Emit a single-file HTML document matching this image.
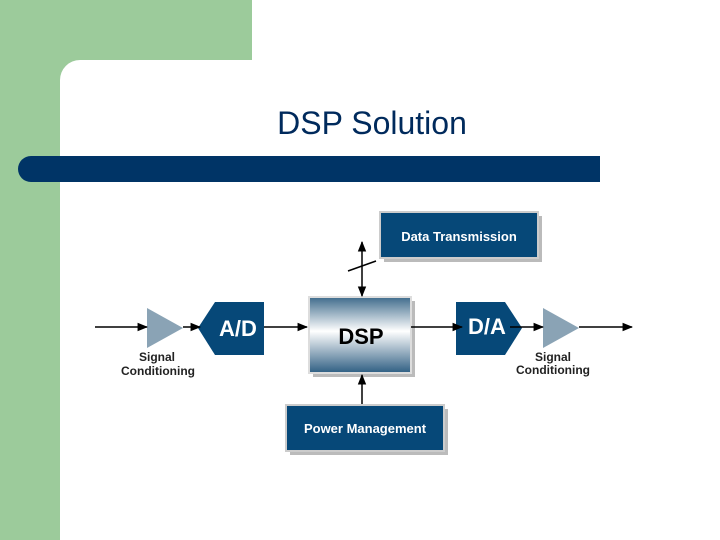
<!DOCTYPE html>
<html><head><meta charset="utf-8"><style>
html,body{margin:0;padding:0;background:#fff}
</style></head><body>
<svg width="720" height="540" xmlns="http://www.w3.org/2000/svg" style="display:block">
<defs>
<linearGradient id="g" x1="0" y1="0" x2="0" y2="1">
<stop offset="0" stop-color="#3f6b8c"/><stop offset="0.45" stop-color="#ffffff"/><stop offset="1" stop-color="#2f5e82"/>
</linearGradient>
<marker id="a" viewBox="0 0 10 10" refX="9" refY="5" markerWidth="7" markerHeight="7" orient="auto-start-reverse"><path d="M0,1 L10,5 L0,9 z" fill="#000"/></marker>
</defs>
<rect width="720" height="540" fill="#fff"/>
<rect x="0" y="0" width="60" height="540" fill="#9ccb9b"/>
<rect x="0" y="0" width="252" height="60" fill="#9ccb9b"/>
<path d="M60,60 L80,60 A20,20 0 0 0 60,80 Z" fill="#9ccb9b"/>
<path d="M31,156 L600,156 L600,182 L31,182 A13,13 0 0 1 31,156 Z" fill="#003466"/>
<text x="372" y="134" font-family="Liberation Sans, sans-serif" font-size="32" text-anchor="middle" fill="#002a5c">DSP Solution</text>

<!-- shadows -->
<rect x="384" y="216" width="158" height="46" fill="#bbb"/>
<rect x="290" y="409" width="158" height="46" fill="#bbb"/>
<rect x="313" y="301" width="102" height="76" fill="#bbb"/>
<!-- boxes -->
<rect x="380" y="212" width="158" height="46" fill="#064878" stroke="#ccc" stroke-width="2"/>
<text x="459" y="241" font-family="Liberation Sans, sans-serif" font-weight="bold" font-size="13" text-anchor="middle" fill="#fff">Data Transmission</text>
<rect x="286" y="405" width="158" height="46" fill="#064878" stroke="#ccc" stroke-width="2"/>
<text x="365" y="433" font-family="Liberation Sans, sans-serif" font-weight="bold" font-size="13" text-anchor="middle" fill="#fff">Power Management</text>
<rect x="309" y="297" width="102" height="76" fill="url(#g)" stroke="#ddd" stroke-width="2"/>
<text x="361" y="344" font-family="Liberation Sans, sans-serif" font-weight="bold" font-size="22" text-anchor="middle" fill="#000">DSP</text>
<!-- A/D, D/A -->
<path d="M215,302 L264,302 L264,355 L215,355 L198,328 Z" fill="#064878"/>
<text x="238" y="336" font-family="Liberation Sans, sans-serif" font-weight="bold" font-size="22" text-anchor="middle" fill="#fff">A/D</text>
<path d="M456,302 L505,302 L522,328 L505,355 L456,355 Z" fill="#064878"/>
<text x="487" y="334" font-family="Liberation Sans, sans-serif" font-weight="bold" font-size="22" text-anchor="middle" fill="#fff">D/A</text>
<!-- triangles -->
<path d="M147,308 L183,328 L147,348 Z" fill="#8aa3b5"/>
<path d="M543,308 L579,328 L543,348 Z" fill="#8aa3b5"/>
<!-- lines -->
<g stroke="#000" stroke-width="1.5" fill="none">
<line x1="95" y1="327" x2="147" y2="327" marker-end="url(#a)"/>
<line x1="183" y1="327" x2="200" y2="327" marker-end="url(#a)"/>
<line x1="264" y1="327" x2="307" y2="327" marker-end="url(#a)"/>
<line x1="411" y1="327" x2="462" y2="327" marker-end="url(#a)"/>
<line x1="510" y1="327" x2="543" y2="327" marker-end="url(#a)"/>
<line x1="579" y1="327" x2="632" y2="327" marker-end="url(#a)"/>
<line x1="362" y1="242" x2="362" y2="296" marker-start="url(#a)" marker-end="url(#a)"/>
<line x1="348" y1="271" x2="376" y2="261"/>
<line x1="362" y1="404" x2="362" y2="375" marker-end="url(#a)"/>
</g>
<g font-family="Liberation Sans, sans-serif" font-weight="bold" font-size="12" fill="#222" text-anchor="middle">
<text x="157" y="361">Signal</text><text x="158" y="375">Conditioning</text>
<text x="553" y="361">Signal</text><text x="553" y="374">Conditioning</text>
</g>
</svg>
</body></html>
